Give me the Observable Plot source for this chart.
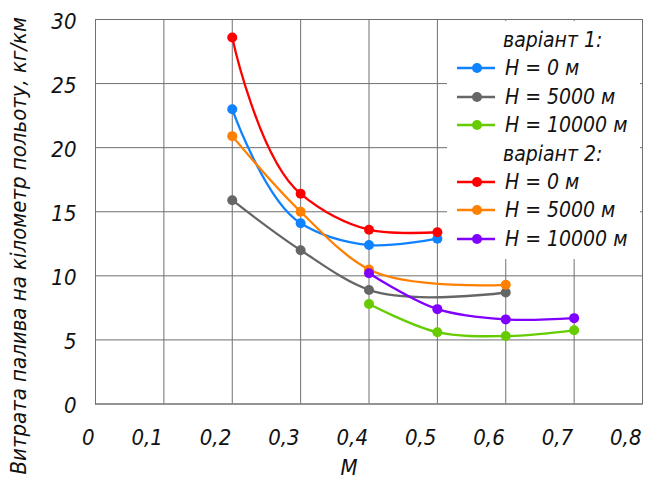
<!DOCTYPE html>
<html>
<head>
<meta charset="utf-8">
<script src="https://cdn.jsdelivr.net/npm/d3@7"></script>
<script src="https://cdn.jsdelivr.net/npm/@observablehq/plot@0.6"></script>
<style>
  html, body { margin: 0; padding: 0; background: #fff; }
  #wrap { position: relative; width: 645px; height: 480px; overflow: hidden; }
  .ff { font-family: "DejaVu Sans Condensed", "DejaVu Sans", sans-serif; font-style: italic; font-stretch: condensed; }
  #legend { position: absolute; left: 447px; top: 21px; width: 193px; height: 238px; background: #fff; }
  .row { position: absolute; left: 0; height: 28px; line-height: 28px; font-size: 21px; color: #111; white-space: nowrap; }
  .row svg { position: absolute; left: 9px; top: 0; }
</style>
</head>
<body>
<div id="wrap" class="ff"></div>
<script>
// ---- data ----
const variantLabels = ["варіант 1:", "варіант 2:"];
const altitudeLabels = ["H = 0 м", "H = 5000 м", "H = 10000 м"];
const seriesColors = ["#0F82FF", "#666666", "#66CC00", "#FF0000", "#FF8000", "#7F00FF"];

const machV1H0 = [0.2, 0.3, 0.4, 0.5];
const fuelV1H0 = [23.0, 14.1, 12.4, 12.9];
const machV1H5000 = [0.2, 0.3, 0.4, 0.6];
const fuelV1H5000 = [15.9, 12.0, 8.9, 8.7];
const machV1H10000 = [0.4, 0.5, 0.6, 0.7];
const fuelV1H10000 = [7.8, 5.6, 5.3, 5.75];
const machV2H0 = [0.2, 0.3, 0.4, 0.5];
const fuelV2H0 = [28.6, 16.4, 13.6, 13.4];
const machV2H5000 = [0.2, 0.3, 0.4, 0.6];
const fuelV2H5000 = [20.9, 15.0, 10.5, 9.3];
const machV2H10000 = [0.4, 0.5, 0.6, 0.7];
const fuelV2H10000 = [10.2, 7.4, 6.6, 6.7];

const xTicks = [0, 0.1, 0.2, 0.3, 0.4, 0.5, 0.6, 0.7, 0.8];
const yTicks = [0, 5, 10, 15, 20, 25, 30];
const xLabel = "М";
const yLabel = "Витрата палива на кілометр польоту, кг/км";

// ---- build table ----
const seriesList = [
  [machV1H0, fuelV1H0], [machV1H5000, fuelV1H5000], [machV1H10000, fuelV1H10000],
  [machV2H0, fuelV2H0], [machV2H5000, fuelV2H5000], [machV2H10000, fuelV2H10000]
];
const rows = [];
seriesList.forEach(([ms, fs], i) => ms.forEach((m, j) => rows.push({s: i, m, f: fs[j]})));

const fmt = d => d === 0 ? "0" : d.toFixed(1).replace(".", ",");
const gridColor = "#707070";

const marks = [
  Plot.gridX(xTicks, {stroke: gridColor, strokeOpacity: 1, strokeWidth: 1}),
  Plot.gridY(yTicks, {stroke: gridColor, strokeOpacity: 1, strokeWidth: 1}),
  Plot.frame({stroke: gridColor, strokeWidth: 1}),
  Plot.axisX(xTicks, {tickSize: 0, tickPadding: 25, tickFormat: fmt, textAnchor: "end", dx: -1, label: null, fontSize: 22}),
  Plot.axisY(yTicks, {tickSize: 0, tickPadding: 19, dy: 2, label: null, fontSize: 22}),
  Plot.text([xLabel], {frameAnchor: "bottom", lineAnchor: "middle", dy: 64, dx: -20, fontSize: 22}),
  Plot.text([yLabel], {frameAnchor: "left", textAnchor: "middle", lineAnchor: "middle", dx: -77, dy: 34, rotate: -90, fontSize: 22})
];
seriesList.forEach((_, i) => {
  const d = rows.filter(r => r.s === i);
  marks.push(Plot.line(d, {x: "m", y: "f", stroke: seriesColors[i], strokeWidth: 2.3, curve: "catmull-rom", tension: 1}));
  marks.push(Plot.dot(d, {x: "m", y: "f", fill: seriesColors[i], r: 5, stroke: "none"}));
});

const chart = Plot.plot({
  width: 645, height: 480,
  marginLeft: 95, marginRight: 3, marginTop: 19, marginBottom: 76.5,
  style: {fontFamily: '"DejaVu Sans Condensed", "DejaVu Sans", sans-serif', fontStyle: "italic", fontStretch: "condensed", fontSize: "22px", color: "#111", background: "#fff"},
  x: {domain: [0, 0.8]},
  y: {domain: [0, 30]},
  marks
});
const wrap = document.getElementById("wrap");
wrap.appendChild(chart);

// ---- legend overlay ----
const legend = document.createElement("div");
legend.id = "legend";
wrap.appendChild(legend);
const rowStep = 28.4;
let k = 0;
variantLabels.forEach((vl, g) => {
  const t = document.createElement("div");
  t.className = "row";
  t.style.top = (19 + k * rowStep - 14) + "px";
  t.style.left = "56px";
  t.textContent = vl;
  legend.appendChild(t);
  k++;
  altitudeLabels.forEach((al, a) => {
    const c = seriesColors[g * 3 + a];
    const r = document.createElement("div");
    r.className = "row";
    r.style.top = (19 + k * rowStep - 14) + "px";
    r.style.width = "190px";
    r.innerHTML = `<svg width="40" height="28"><line x1="1" y1="14" x2="39" y2="14" stroke="${c}" stroke-width="2.3"/><circle cx="21" cy="14" r="5" fill="${c}"/></svg><span style="position:absolute;left:58px;">${al}</span>`;
    legend.appendChild(r);
    k++;
  });
});
</script>
</body>
</html>
